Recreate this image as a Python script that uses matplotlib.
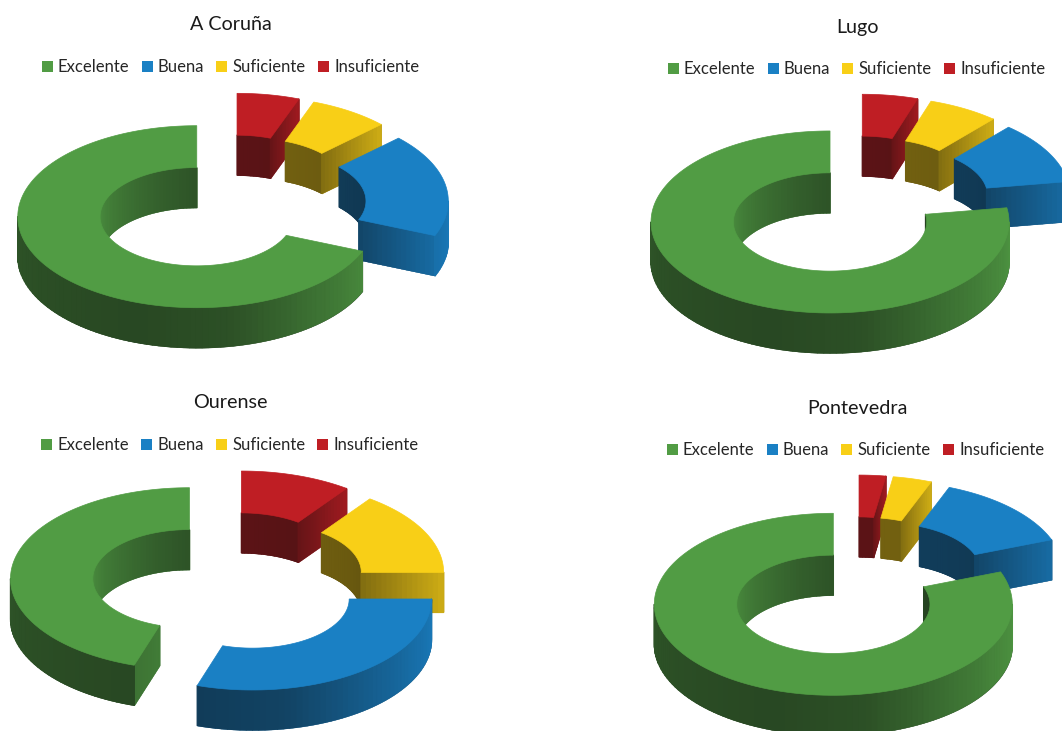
import numpy as np
import matplotlib
matplotlib.use("Agg")
import matplotlib.pyplot as plt
from matplotlib.collections import PolyCollection
from matplotlib.patches import Patch

plt.rcParams['font.family'] = ['Lato', 'DejaVu Sans']

# ---- data (percent, in legend order) ----
categories = ["Excelente", "Buena", "Suficiente", "Insuficiente"]
provinces = ["A Coruña", "Lugo", "Ourense", "Pontevedra"]
coruna = [68.6, 18.3, 7.2, 5.6]
lugo = [77.5, 11.1, 6.4, 5.0]
ourense = [45.0, 30.0, 15.0, 10.0]
pontevedra = [80.8, 13.3, 3.5, 2.4]

# ---- styles and layout ----
colors = ["#519C44", "#1A80C4", "#F8CF17", "#BF1E24"]
A, B = 179.0, 91.0       # outer ellipse semi axes (px)
HOLE = 0.54              # inner/outer radius
DEPTH = 40.0             # wall height (px)
EXP_X, EXP_Y = 40.0, 21.0  # explosion distance (px)
W, H = 1062, 731

panels = [
    dict(name=provinces[0], vals=coruna, box=(0, 0, 531, 365), c=(230, 205),
         title=(231, 25), leg=(230.5, 67)),
    dict(name=provinces[1], vals=lugo, box=(531, 0, 1062, 365), c=(856, 206),
         title=(857, 27), leg=(856.5, 69)),
    dict(name=provinces[2], vals=ourense, box=(0, 365, 531, 731), c=(229, 582),
         title=(230, 403), leg=(230, 445)),
    dict(name=provinces[3], vals=pontevedra, box=(531, 365, 1062, 731), c=(856, 587),
         title=(857, 408), leg=(855.5, 450)),
]


def rgb(c):
    return np.array(matplotlib.colors.to_rgb(c))


def shaded(col, s):
    return np.clip(col * s + (1 - s) * 0.04, 0, 1)


def outer_shade(t):
    return np.interp(t, [90, 115, 140, 170, 200, 270], [0.95, 0.85, 0.7, 0.48, 0.42, 0.5])


def inner_shade(t):
    t = np.mod(t, 360)
    if t <= 90:
        return float(np.interp(t, [0, 90], [0.45, 0.38]))
    return float(np.interp(t, [270, 305, 340, 360], [0.92, 0.75, 0.58, 0.5]))


def pt(cx, cy, r, t):
    th = np.radians(t)
    return cx + r * A * np.sin(th), cy - r * B * np.cos(th)


def strips(ax, polys, fc, z):
    # an underlay of the whole band keeps the seams between strips from showing
    first, last = polys[0], polys[-1]
    outline = [p[0] for p in polys] + [last[1], last[2]] + [p[3] for p in polys[::-1]]
    mid = fc[len(fc) // 2]
    ax.add_collection(PolyCollection([outline], facecolors=[mid], edgecolors=[mid],
                                     linewidths=0.3, zorder=z))
    pc = PolyCollection(polys, facecolors=fc, edgecolors=fc, linewidths=0.9, zorder=z)
    pc.set_snap(False)
    ax.add_collection(pc)


def wall(ax, cx, cy, r, t0, t1, shade, col, z):
    ts = np.arange(t0, t1, 2.0)
    ts = np.append(ts, t1)
    polys, fc = [], []
    for a, b in zip(ts[:-1], ts[1:]):
        xa, ya = pt(cx, cy, r, a)
        xb, yb = pt(cx, cy, r, b)
        polys.append([(xa, ya), (xb, yb), (xb, yb + DEPTH), (xa, ya + DEPTH)])
        fc.append(shaded(col, shade((a + b) / 2)))
    if polys:
        strips(ax, polys, fc, z)


def face(ax, cx, cy, t, col, z, s0, s1):
    n = 16
    rs = np.linspace(HOLE, 1, n + 1)
    polys, fc = [], []
    for i in range(n):
        xa, ya = pt(cx, cy, rs[i], t)
        xb, yb = pt(cx, cy, rs[i + 1], t)
        polys.append([(xa, ya), (xb, yb), (xb, yb + DEPTH), (xa, ya + DEPTH)])
        fc.append(shaded(col, s0 + (s1 - s0) * (i + 0.5) / n))
    strips(ax, polys, fc, z)


def draw_slice(ax, cx, cy, t0, t1, color, z):
    col = rgb(color)
    # inner wall (back half of the hole)
    for lo, hi in ((0, 90), (270, 360)):
        a, b = max(t0, lo), min(t1, hi)
        if b > a:
            wall(ax, cx, cy, HOLE, a, b, inner_shade, col, z)
    # radial end faces
    if np.sin(np.radians(t1)) > 1e-6:
        face(ax, cx, cy, t1, col, z + 0.1, 0.5, 0.82)
    if np.sin(np.radians(t0)) < -1e-6:
        face(ax, cx, cy, t0, col, z + 0.1, 0.78, 0.72)
    # outer wall (front half)
    a, b = max(t0, 90), min(t1, 270)
    if b > a:
        wall(ax, cx, cy, 1.0, a, b, outer_shade, col, z + 0.2)
    # top surface
    ts = np.linspace(t0, t1, max(int(t1 - t0) + 2, 3))
    ox, oy = pt(cx, cy, 1.0, ts)
    ix, iy = pt(cx, cy, HOLE, ts[::-1])
    ax.fill(np.r_[ox, ix], np.r_[oy, iy], facecolor=color, edgecolor=color, linewidth=0.5, zorder=z + 0.3)


fig = plt.figure(figsize=(W / 100, H / 100), dpi=100, facecolor="white")

for p in panels:
    x0, y0, x1, y1 = p["box"]
    ax = fig.add_axes([x0 / W, 1 - y1 / H, (x1 - x0) / W, (y1 - y0) / H])
    ax.set_xlim(x0, x1)
    ax.set_ylim(y1, y0)
    ax.axis("off")

    vals = np.array(p["vals"], float)
    # slices run counter-clockwise from 12 o'clock, in legend order
    ends = 360 - np.cumsum(vals) / vals.sum() * 360
    starts = np.r_[360, ends[:-1]]
    mids = (starts + ends) / 2
    order = np.argsort(-np.cos(np.radians(mids)))  # farthest first
    for rank, i in enumerate(order):
        m = np.radians(mids[i])
        sx = p["c"][0] + EXP_X * np.sin(m)
        sy = p["c"][1] - EXP_Y * np.cos(m)
        draw_slice(ax, sx, sy, ends[i], starts[i], colors[i], 2 + rank)

    ax.text(p["title"][0], p["title"][1], p["name"], ha="center", va="center",
            fontsize=14.2, color="#1a1a1a", zorder=20)
    handles = [Patch(facecolor=c, edgecolor="none", label=l) for c, l in zip(colors, categories)]
    ax.legend(handles=handles, loc="center", bbox_to_anchor=p["leg"],
              bbox_transform=ax.transData, ncols=4, frameon=False, fontsize=12,
              handlelength=0.66, handleheight=0.66, handletextpad=0.32,
              columnspacing=0.72, borderpad=0, borderaxespad=0, labelcolor="#262626")

fig.savefig("out.png", dpi=100, facecolor="white")
